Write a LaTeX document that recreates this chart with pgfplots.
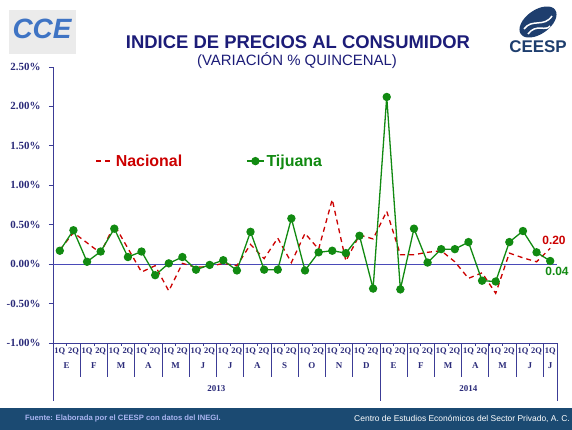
\documentclass[border=0pt]{standalone}
\usepackage{fontspec}
\setmainfont{Liberation Serif}
\newfontfamily\arial{Liberation Sans}
\usepackage{pgfplots}
\pgfplotsset{compat=1.18}
\definecolor{navy}{HTML}{2B2B7A}
\definecolor{axblue}{HTML}{3C3C96}
\definecolor{zeroblue}{HTML}{4A4AB8}
\definecolor{nred}{HTML}{CC0000}
\definecolor{tgreen}{HTML}{118A11}
\definecolor{footer}{HTML}{1B4A72}
\definecolor{fuente}{HTML}{A9B4F0}
\definecolor{ccebl}{HTML}{3F74C4}
\definecolor{ceesp}{HTML}{1E3E6E}
\definecolor{titlec}{HTML}{1C1C78}
\begin{document}
\begin{tikzpicture}
\path[use as bounding box] (0bp,0bp) rectangle (572bp,430bp);
\fill[white] (0bp,0bp) rectangle (572bp,430bp);
% footer
\fill[footer] (0bp,0bp) rectangle (572bp,22bp);
\node[anchor=west, font=\arial\bfseries\fontsize{7.7}{8}\selectfont, text=fuente, inner sep=0] at (25bp,11bp) {Fuente: Elaborada por el CEESP con datos del INEGI.};
\node[anchor=east, font=\arial\fontsize{8.5}{9}\selectfont, text=white, inner sep=0] at (570bp,11bp) {Centro de Estudios Económicos del Sector Privado, A. C.};
% titles
\node[font=\arial\bfseries\fontsize{18.5}{20}\selectfont, text=titlec] at (298bp,388bp) {INDICE DE PRECIOS AL CONSUMIDOR};
\node[font=\arial\fontsize{15}{17}\selectfont, text=titlec] at (297bp,369bp) {(VARIACIÓN \% QUINCENAL)};
% left logo
\fill[black!8] (9bp,376bp) rectangle (76bp,420bp);
\node[font=\arial\bfseries\itshape\fontsize{28}{28}\selectfont, text=ccebl] at (42bp,401bp) {CCE};
% right logo
\fill[ceesp, rotate around={35:(538bp,408bp)}] (538bp,408bp) ellipse (21bp and 12bp);
\draw[white, line width=1.5bp] (524bp,401bp) .. controls (532bp,412bp) and (544bp,402bp) .. (552bp,414bp);
\draw[white, line width=1.5bp] (528bp,396bp) .. controls (536bp,407bp) and (546bp,398bp) .. (550bp,404bp);
\node[font=\arial\bfseries\fontsize{17}{17}\selectfont, text=ceesp] at (538bp,383bp) {CEESP};
% data labels
\node[font=\arial\bfseries\fontsize{12}{12}\selectfont, text=nred] at (554bp,190bp) {0.20};
\node[font=\arial\bfseries\fontsize{12}{12}\selectfont, text=tgreen] at (557bp,159bp) {0.04};
\begin{axis}[
  at={(53bp,87bp)}, anchor=south west, scale only axis,
  width=504bp, height=276bp,
  xmin=-0.5, xmax=36.5, ymin=-1, ymax=2.5,
  axis x line=bottom, axis y line=left,
  axis line style={-, axblue, line width=0.8bp},
  clip=false,
  tick align=outside,
  major tick length=4bp, minor tick length=3bp,
  ytick={-1,-0.5,0,0.5,1,1.5,2,2.5},
  yticklabel={\pgfmathprintnumber[fixed,fixed zerofill,precision=2,assume math mode=true]{\tick}\%},
  yticklabel style={font=\bfseries\fontsize{11}{11}\selectfont, text=navy, xshift=-5bp},
  ytick style={axblue, line width=0.8bp},
  extra y ticks={0}, extra y tick labels={},
  extra y tick style={grid=major, major grid style={zeroblue, line width=1bp}},
  xtick={0,...,36},
  xticklabels={1Q,2Q,1Q,2Q,1Q,2Q,1Q,2Q,1Q,2Q,1Q,2Q,1Q,2Q,1Q,2Q,1Q,2Q,1Q,2Q,1Q,2Q,1Q,2Q,1Q,2Q,1Q,2Q,1Q,2Q,1Q,2Q,1Q,2Q,1Q,2Q,1Q},
  xticklabel style={font=\bfseries\fontsize{8.5}{8.5}\selectfont, text=navy, inner sep=1bp},
  major x tick style={draw=none},
  minor xtick={-0.5,0.5,...,36.5},
  minor x tick style={axblue, line width=0.6bp},
  legend style={at={(0.078,0.659)}, anchor=west, draw=none, fill=none,
    font=\arial\bfseries\fontsize{16}{16}\selectfont,
    /tikz/every even column/.append style={column sep=62bp}},
  legend columns=2,
  legend cell align=left,
]
\addplot[nred, line width=1.3bp, dash pattern=on 5bp off 4bp] coordinates {
(0,0.18) (1,0.40) (2,0.27) (3,0.14) (4,0.50) (5,0.20) (6,-0.10) (7,-0.02) (8,-0.34) (9,0.01)
(10,-0.04) (11,-0.03) (12,0.01) (13,-0.02) (14,0.25) (15,0.07) (16,0.33) (17,0.02) (18,0.39) (19,0.19)
(20,0.82) (21,0.04) (22,0.37) (23,0.32) (24,0.67) (25,0.12) (26,0.12) (27,0.15) (28,0.17) (29,0.03)
(30,-0.18) (31,-0.11) (32,-0.37) (33,0.14) (34,0.08) (35,0.03) (36,0.20)};
\addlegendentry{\textcolor{nred}{Nacional}}
\addplot[tgreen, line width=1.3bp, mark=*, mark size=3.5bp, mark options={solid, fill=tgreen}] coordinates {
(0,0.17) (1,0.43) (2,0.03) (3,0.16) (4,0.45) (5,0.09) (6,0.16) (7,-0.14) (8,0.01) (9,0.09)
(10,-0.07) (11,-0.01) (12,0.05) (13,-0.08) (14,0.41) (15,-0.07) (16,-0.07) (17,0.58) (18,-0.08) (19,0.15)
(20,0.17) (21,0.14) (22,0.36) (23,-0.31) (24,2.12) (25,-0.32) (26,0.45) (27,0.02) (28,0.19) (29,0.19)
(30,0.28) (31,-0.21) (32,-0.22) (33,0.28) (34,0.42) (35,0.15) (36,0.04)};
\addlegendentry{\textcolor{tgreen}{Tijuana}}
% separators
\draw[axblue, line width=0.8bp] (axis cs:-0.5,-1) -- ([yshift=-58bp]axis cs:-0.5,-1);
\draw[axblue, line width=0.8bp] (axis cs:23.5,-1) -- ([yshift=-58bp]axis cs:23.5,-1);
\draw[axblue, line width=0.8bp] (axis cs:36.5,-1) -- ([yshift=-58bp]axis cs:36.5,-1);
\draw[axblue, line width=0.8bp] (axis cs:1.5,-1) -- ([yshift=-34bp]axis cs:1.5,-1);
\draw[axblue, line width=0.8bp] (axis cs:3.5,-1) -- ([yshift=-34bp]axis cs:3.5,-1);
\draw[axblue, line width=0.8bp] (axis cs:5.5,-1) -- ([yshift=-34bp]axis cs:5.5,-1);
\draw[axblue, line width=0.8bp] (axis cs:7.5,-1) -- ([yshift=-34bp]axis cs:7.5,-1);
\draw[axblue, line width=0.8bp] (axis cs:9.5,-1) -- ([yshift=-34bp]axis cs:9.5,-1);
\draw[axblue, line width=0.8bp] (axis cs:11.5,-1) -- ([yshift=-34bp]axis cs:11.5,-1);
\draw[axblue, line width=0.8bp] (axis cs:13.5,-1) -- ([yshift=-34bp]axis cs:13.5,-1);
\draw[axblue, line width=0.8bp] (axis cs:15.5,-1) -- ([yshift=-34bp]axis cs:15.5,-1);
\draw[axblue, line width=0.8bp] (axis cs:17.5,-1) -- ([yshift=-34bp]axis cs:17.5,-1);
\draw[axblue, line width=0.8bp] (axis cs:19.5,-1) -- ([yshift=-34bp]axis cs:19.5,-1);
\draw[axblue, line width=0.8bp] (axis cs:21.5,-1) -- ([yshift=-34bp]axis cs:21.5,-1);
\draw[axblue, line width=0.8bp] (axis cs:25.5,-1) -- ([yshift=-34bp]axis cs:25.5,-1);
\draw[axblue, line width=0.8bp] (axis cs:27.5,-1) -- ([yshift=-34bp]axis cs:27.5,-1);
\draw[axblue, line width=0.8bp] (axis cs:29.5,-1) -- ([yshift=-34bp]axis cs:29.5,-1);
\draw[axblue, line width=0.8bp] (axis cs:31.5,-1) -- ([yshift=-34bp]axis cs:31.5,-1);
\draw[axblue, line width=0.8bp] (axis cs:33.5,-1) -- ([yshift=-34bp]axis cs:33.5,-1);
\draw[axblue, line width=0.8bp] (axis cs:35.5,-1) -- ([yshift=-34bp]axis cs:35.5,-1);
% month labels
\tikzset{mon/.style={font=\bfseries\fontsize{9}{9}\selectfont, text=navy, yshift=-23bp}}
\node[mon] at (axis cs:0.5,-1) {E};
\node[mon] at (axis cs:2.5,-1) {F};
\node[mon] at (axis cs:4.5,-1) {M};
\node[mon] at (axis cs:6.5,-1) {A};
\node[mon] at (axis cs:8.5,-1) {M};
\node[mon] at (axis cs:10.5,-1) {J};
\node[mon] at (axis cs:12.5,-1) {J};
\node[mon] at (axis cs:14.5,-1) {A};
\node[mon] at (axis cs:16.5,-1) {S};
\node[mon] at (axis cs:18.5,-1) {O};
\node[mon] at (axis cs:20.5,-1) {N};
\node[mon] at (axis cs:22.5,-1) {D};
\node[mon] at (axis cs:24.5,-1) {E};
\node[mon] at (axis cs:26.5,-1) {F};
\node[mon] at (axis cs:28.5,-1) {M};
\node[mon] at (axis cs:30.5,-1) {A};
\node[mon] at (axis cs:32.5,-1) {M};
\node[mon] at (axis cs:34.5,-1) {J};
\node[mon] at (axis cs:36,-1) {J};
% years
\node[font=\bfseries\fontsize{9}{9}\selectfont, text=navy, yshift=-46bp] at (axis cs:11.5,-1) {2013};
\node[font=\bfseries\fontsize{9}{9}\selectfont, text=navy, yshift=-46bp] at (axis cs:30,-1) {2014};
\end{axis}
\end{tikzpicture}
\end{document}
